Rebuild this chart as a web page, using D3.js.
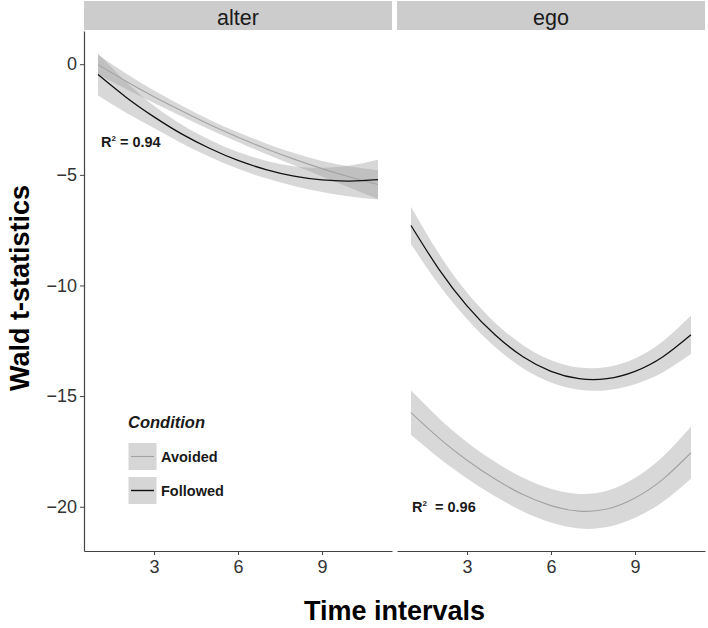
<!DOCTYPE html>
<html><head><meta charset="utf-8">
<script src="https://cdn.jsdelivr.net/npm/d3@7"></script>
<style>body{margin:0;background:#fff}svg{display:block;font-family:Arial,"Liberation Sans",Helvetica,sans-serif}</style>
</head><body><div id="chart"></div>
<script>
// ---- data ----
const panels = ["alter", "ego"];
const conditions = ["Avoided", "Followed"];
const times = [1, 2, 3, 4, 5, 6, 7, 8, 9, 10, 11];
const yTicks = [0, -5, -10, -15, -20];
const xTicks = [3, 6, 9];

const alterAvoidedFit   = [-0.02, -0.77, -1.47, -2.12, -2.74, -3.30, -3.82, -4.29, -4.72, -5.10, -5.44];
const alterAvoidedLow   = [-0.47, -1.12, -1.75, -2.36, -2.96, -3.52, -4.06, -4.57, -5.07, -5.58, -6.09];
const alterAvoidedHigh  = [ 0.43, -0.42, -1.19, -1.88, -2.52, -3.08, -3.58, -4.01, -4.37, -4.62, -4.79];
const alterFollowedFit  = [-0.47, -1.49, -2.38, -3.16, -3.81, -4.35, -4.76, -5.06, -5.23, -5.28, -5.22];
const alterFollowedLow  = [-1.42, -2.19, -2.88, -3.58, -4.19, -4.73, -5.16, -5.51, -5.78, -5.98, -6.12];
const alterFollowedHigh = [ 0.48, -0.79, -1.88, -2.74, -3.43, -3.97, -4.36, -4.61, -4.68, -4.58, -4.32];

const egoAvoidedFit   = [-15.75, -16.90, -17.90, -18.75, -19.45, -19.95, -20.20, -20.10, -19.60, -18.75, -17.56];
const egoAvoidedLow   = [-16.75, -17.80, -18.72, -19.53, -20.21, -20.71, -20.98, -20.92, -20.50, -19.77, -18.73];
const egoAvoidedHigh  = [-14.75, -16.00, -17.08, -17.97, -18.69, -19.19, -19.42, -19.28, -18.70, -17.73, -16.39];
const egoFollowedFit  = [-7.29, -9.27, -10.92, -12.23, -13.22, -13.88, -14.21, -14.21, -13.88, -13.22, -12.23];
const egoFollowedLow  = [-8.14, -9.97, -11.52, -12.78, -13.74, -14.38, -14.71, -14.73, -14.46, -13.92, -13.10];
const egoFollowedHigh = [-6.44, -8.57, -10.32, -11.68, -12.70, -13.38, -13.71, -13.69, -13.30, -12.52, -11.36];

const r2Labels = ["0.94", "0.96"];

// ---- build ----
const W = 708, H = 628;
const svg = d3.select("#chart").append("svg").attr("width", W).attr("height", H);

const yScale = d3.scaleLinear().domain([-22, 1.5]).range([551, 31]);
const panelRanges = [[84, 392], [397, 705]];
const lineColor = {Avoided: "#a3a3a3", Followed: "#111111"};

const seriesData = {
  alter: {
    Avoided: {fit: alterAvoidedFit, low: alterAvoidedLow, high: alterAvoidedHigh},
    Followed: {fit: alterFollowedFit, low: alterFollowedLow, high: alterFollowedHigh}
  },
  ego: {
    Avoided: {fit: egoAvoidedFit, low: egoAvoidedLow, high: egoAvoidedHigh},
    Followed: {fit: egoFollowedFit, low: egoFollowedLow, high: egoFollowedHigh}
  }
};

panels.forEach((p, pi) => {
  const [x0, x1] = panelRanges[pi];
  const xScale = d3.scaleLinear().domain([0.5, 11.5]).range([x0, x1]);

  // strip
  svg.append("rect").attr("x", x0).attr("y", 1).attr("width", x1 - x0).attr("height", 29)
    .attr("fill", "#cccccc");
  svg.append("text").attr("x", (x0 + x1) / 2).attr("y", 24.5).attr("text-anchor", "middle")
    .attr("font-size", 21.5).attr("fill", "#1a1a1a").text(p);

  const g = svg.append("g");
  // bands
  conditions.forEach(c => {
    const s = seriesData[p][c];
    const area = d3.area().x((d, i) => xScale(times[i])).y0((d, i) => yScale(s.low[i]))
      .y1((d, i) => yScale(s.high[i])).curve(d3.curveNatural);
    g.append("path").datum(times).attr("d", area).attr("fill", "#999999").attr("fill-opacity", 0.38);
  });
  conditions.forEach(c => {
    const s = seriesData[p][c];
    const line = d3.line().x((d, i) => xScale(times[i])).y((d, i) => yScale(s.fit[i])).curve(d3.curveNatural);
    g.append("path").datum(times).attr("d", line).attr("fill", "none")
      .attr("stroke", lineColor[c]).attr("stroke-width", c === "Followed" ? 1.3 : 1.1);
  });

  // x axis
  const xAxis = svg.append("g").attr("transform", "translate(0,551)")
    .call(d3.axisBottom(xScale).tickValues(xTicks).tickSize(4).tickPadding(5).tickSizeOuter(0));
  xAxis.select(".domain").attr("stroke", "#444").attr("stroke-width", 1.2);
  xAxis.selectAll(".tick line").attr("stroke", "#444");
  xAxis.selectAll(".tick text").attr("font-size", 18).attr("fill", "#333").attr("font-family", "Arial, 'Liberation Sans', sans-serif");

  // R² label
  const lab = svg.append("text").attr("font-size", 14.5).attr("font-weight", "bold").attr("fill", "#1a1a1a");
  if (pi === 0) lab.attr("x", 101).attr("y", 146.5); else lab.attr("x", 412).attr("y", 511.5);
  lab.append("tspan").text("R");
  lab.append("tspan").attr("font-size", 8).attr("dy", -5.5).text("2");
  lab.append("tspan").attr("dy", 5.5).attr("xml:space", "preserve").text(pi === 0 ? " = " + r2Labels[pi] : "  = " + r2Labels[pi]);
});

// y axis (left panel only)
const yAxis = svg.append("g").attr("transform", "translate(84,0)")
  .call(d3.axisLeft(yScale).tickValues(yTicks).tickSize(4).tickPadding(3).tickSizeOuter(0));
yAxis.select(".domain").attr("stroke", "#444").attr("stroke-width", 1.2);
yAxis.selectAll(".tick line").attr("stroke", "#444");
yAxis.selectAll(".tick text").attr("font-size", 18).attr("fill", "#333").attr("font-family", "Arial, 'Liberation Sans', sans-serif");

// axis titles
svg.append("text").attr("transform", "translate(29,288) rotate(-90)").attr("text-anchor", "middle")
  .attr("font-size", 27).attr("font-weight", "bold").attr("fill", "#000").text("Wald t-statistics");
svg.append("text").attr("x", 394.5).attr("y", 620).attr("text-anchor", "middle")
  .attr("font-size", 27).attr("font-weight", "bold").attr("fill", "#000").text("Time intervals");

// legend
const leg = svg.append("g");
leg.append("text").attr("x", 128).attr("y", 428).attr("font-size", 16.5).attr("font-weight", "bold")
  .attr("font-style", "italic").attr("fill", "#1a1a1a").text("Condition");
conditions.forEach((c, i) => {
  const ky = 443 + i * 34;
  leg.append("rect").attr("x", 128.5).attr("y", ky).attr("width", 28).attr("height", 27).attr("fill", "#d6d6d6");
  leg.append("line").attr("x1", 131).attr("x2", 154).attr("y1", ky + 13.5).attr("y2", ky + 13.5)
    .attr("stroke", lineColor[c]).attr("stroke-width", c === "Followed" ? 1.4 : 1.1);
  leg.append("text").attr("x", 161).attr("y", ky + 19).attr("font-size", 14.5).attr("font-weight", "bold")
    .attr("fill", "#1a1a1a").text(c);
});
</script></body></html>
